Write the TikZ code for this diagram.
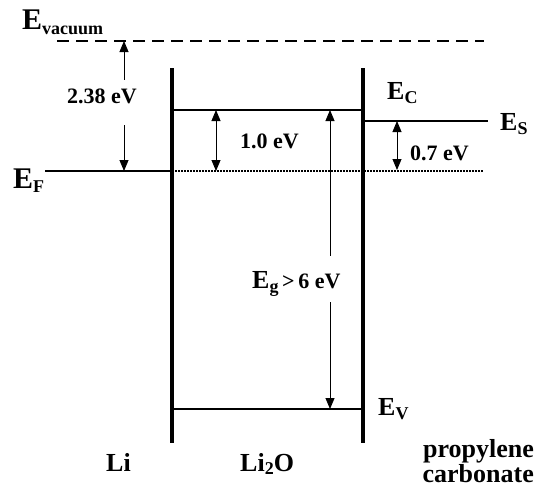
\documentclass[tikz,border=0pt]{standalone}
\usepackage{fontspec}
\setmainfont{Liberation Serif}
\usetikzlibrary{arrows.meta}
\newcommand{\elev}[2][26]{{\fontsize{#1}{#1}\selectfont E}{\fontsize{18}{18}\selectfont\raisebox{-4.5pt}{#2}}}
\begin{document}
\begin{tikzpicture}[x=1pt,y=-1pt,
  lbl/.style={inner sep=0pt,anchor=base west,font=\bfseries},
  num/.style={inner sep=0pt,anchor=base west,font=\bfseries\fontsize{22}{22}\selectfont},
  big/.style={inner sep=0pt,anchor=base west,font=\bfseries\fontsize{26}{26}\selectfont},
  wall/.style={line width=3.6pt},
  level/.style={line width=1.8pt},
  gap/.style={line width=0.9pt},
  tipup/.style={{Triangle[length=11pt,width=9pt]}-},
  tipdn/.style={-{Triangle[length=11pt,width=9pt]}},
  tipboth/.style={{Triangle[length=11pt,width=9pt]}-{Triangle[length=11pt,width=9pt]}}]
\useasboundingbox (0,0) rectangle (534,487);
% walls
\coordinate (wLt) at (172,68); \coordinate (wLb) at (172,443);
\coordinate (wRt) at (363,68); \coordinate (wRb) at (363,443);
\draw[wall] (wLt) -- (wLb);
\draw[wall] (wRt) -- (wRb);
% levels
\coordinate (vacL) at (57,41); \coordinate (vacR) at (484,41);
\draw[line width=2.4pt, dash pattern=on 12pt off 7pt] (vacL) -- (vacR);
\coordinate (ecL) at (172,110); \coordinate (ecR) at (363,110);
\draw[level] (ecL) -- (ecR);
\coordinate (evL) at (172,409); \coordinate (evR) at (363,409);
\draw[level] (evL) -- (evR);
\coordinate (esL) at (363,121); \coordinate (esR) at (488,121);
\draw[level] (esL) -- (esR);
\coordinate (efL) at (45,171); \coordinate (efR) at (172,171);
\draw[level] (efL) -- (efR);
\coordinate (dotR) at (484,171);
\draw[line width=1.5pt, dash pattern=on 1.5pt off 1.5pt] (efR) -- (dotR);
% arrows
\coordinate (a1t) at (124,41); \coordinate (a1m) at (124,80);
\coordinate (a1n) at (124,125); \coordinate (a1b) at (124,171);
\draw[gap,tipup] (a1t) -- (a1m);
\draw[gap,tipdn] (a1n) -- (a1b);
\coordinate (a2t) at (216,110); \coordinate (a2b) at (216,171);
\draw[gap,tipboth] (a2t) -- (a2b);
\coordinate (a3t) at (330,110); \coordinate (a3m) at (330,256);
\coordinate (a3n) at (330,302); \coordinate (a3b) at (330,409);
\draw[gap,tipup] (a3t) -- (a3m);
\draw[gap,tipdn] (a3n) -- (a3b);
\coordinate (a4t) at (397,121); \coordinate (a4b) at (397,170);
\draw[gap,tipboth] (a4t) -- (a4b);
% labels
\node[lbl] (lvac) at (22,30) {\elev[30]{vacuum}};
\node[lbl] (lef) at (13,188) {\elev[30]{F}};
\node[lbl] (lec) at (387,99) {\elev{C}};
\node[lbl] (les) at (500,130) {\elev{S}};
\node[lbl] (lev) at (378,415) {\elev{V}};
\node[lbl] (leg) at (252,288) {\elev{g}\fontsize{22}{22}\selectfont\,>\,6 eV};
\node[num] (n238) at (67,103) {2.38 eV};
\node[num] (n10) at (240,148) {1.0 eV};
\node[num] (n07) at (410,160) {0.7 eV};
\node[big] (lli) at (106,471) {Li};
\node[big] (llio) at (240,471) {Li{\fontsize{18}{18}\selectfont\raisebox{-3pt}{2}}O};
\node[big,anchor=base east] (lpc1) at (534,457) {propylene};
\node[big,anchor=base east] (lpc2) at (534,482) {carbonate};
\end{tikzpicture}
\end{document}
